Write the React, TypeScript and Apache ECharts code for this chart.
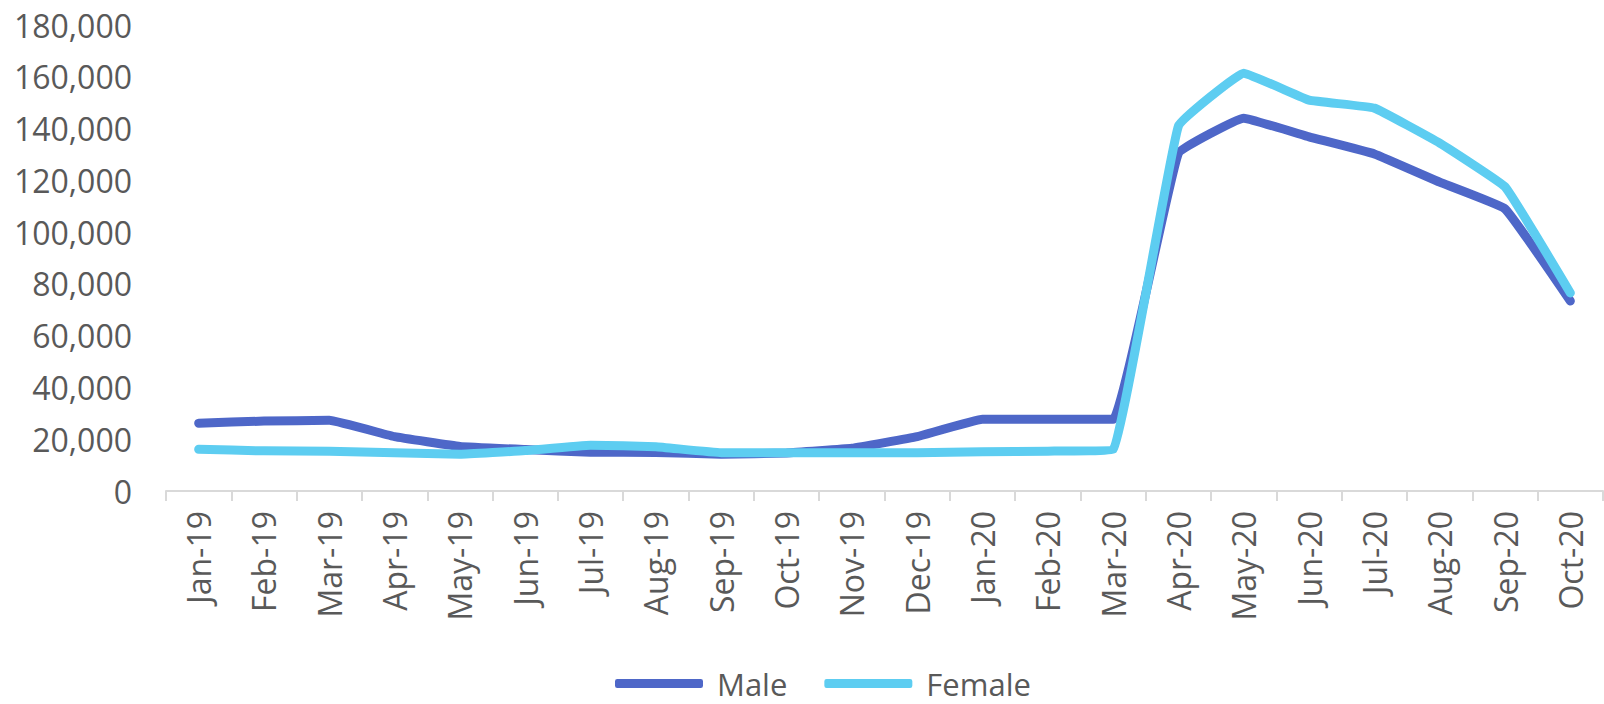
import React, { useEffect, useRef } from "react";
import * as echarts from "echarts";

const categories = [
  "Jan-19", "Feb-19", "Mar-19", "Apr-19", "May-19", "Jun-19", "Jul-19", "Aug-19",
  "Sep-19", "Oct-19", "Nov-19", "Dec-19", "Jan-20", "Feb-20", "Mar-20", "Apr-20",
  "May-20", "Jun-20", "Jul-20", "Aug-20", "Sep-20", "Oct-20",
];

const maleValues = [
  26200, 27000, 27300, 21000, 17200, 16000, 15000, 14900, 14200, 14700, 16500,
  21000, 27700, 27700, 27700, 130500, 144000, 136800, 130200, 119300, 109000, 73400,
];

const femaleValues = [
  16100, 15500, 15400, 14800, 14200, 15600, 17700, 17100, 14800, 14800, 14800,
  14800, 15200, 15400, 16100, 141000, 161400, 151000, 147900, 134400, 117500, 76500,
];

const seriesNames = ["Male", "Female"];
const yMin = 0;
const yMax = 180000;
const yStep = 20000;

const FONT = "'Open Sans', sans-serif";
const TEXT_COLOR = "#595959";
const MALE_COLOR = "#4E67C8";
const FEMALE_COLOR = "#5DCDF1";

export default function App() {
  const ref = useRef<HTMLDivElement>(null);

  useEffect(() => {
    if (!ref.current) return;
    const chart = echarts.init(ref.current, null, { renderer: "svg" });
    chart.setOption({
      animation: false,
      backgroundColor: "#ffffff",
      grid: { left: 166, right: 1, top: 25, bottom: 213, containLabel: false },
      legend: {
        left: 615,
        top: 668,
        padding: 0,
        itemWidth: 88,
        itemHeight: 9,
        itemGap: 37,
        icon: "roundRect",
        textStyle: {
          fontFamily: FONT,
          fontSize: 31,
          lineHeight: 30,
          color: TEXT_COLOR,
          padding: [0, 0, 0, 9],
        },
        data: seriesNames,
      },
      xAxis: {
        type: "category",
        data: categories,
        boundaryGap: true,
        axisLine: { show: true, lineStyle: { color: "#D9D9D9", width: 2 } },
        axisTick: { show: true, length: 10, lineStyle: { color: "#D9D9D9", width: 2 } },
        axisLabel: {
          rotate: 90,
          margin: 20,
          interval: 0,
          fontFamily: FONT,
          fontSize: 32,
          color: TEXT_COLOR,
        },
        splitLine: { show: false },
      },
      yAxis: {
        type: "value",
        min: yMin,
        max: yMax,
        interval: yStep,
        axisLine: { show: false },
        axisTick: { show: false },
        splitLine: { show: false },
        axisLabel: {
          margin: 34,
          fontFamily: FONT,
          fontSize: 32,
          color: TEXT_COLOR,
          formatter: (v: number) => v.toLocaleString("en-US"),
        },
      },
      series: [
        {
          name: seriesNames[0],
          type: "line",
          data: maleValues,
          symbol: "none",
          smooth: 0.08,
          color: MALE_COLOR,
          lineStyle: { width: 9, color: MALE_COLOR, cap: "round", join: "round" },
          z: 2,
        },
        {
          name: seriesNames[1],
          type: "line",
          data: femaleValues,
          symbol: "none",
          smooth: 0.08,
          color: FEMALE_COLOR,
          lineStyle: { width: 9, color: FEMALE_COLOR, cap: "round", join: "round" },
          z: 3,
        },
      ],
    });
    return () => chart.dispose();
  }, []);

  return (
    <div
      ref={ref}
      style={{ position: "absolute", left: 0, top: 0, width: 1604, height: 704 }}
    />
  );
}
